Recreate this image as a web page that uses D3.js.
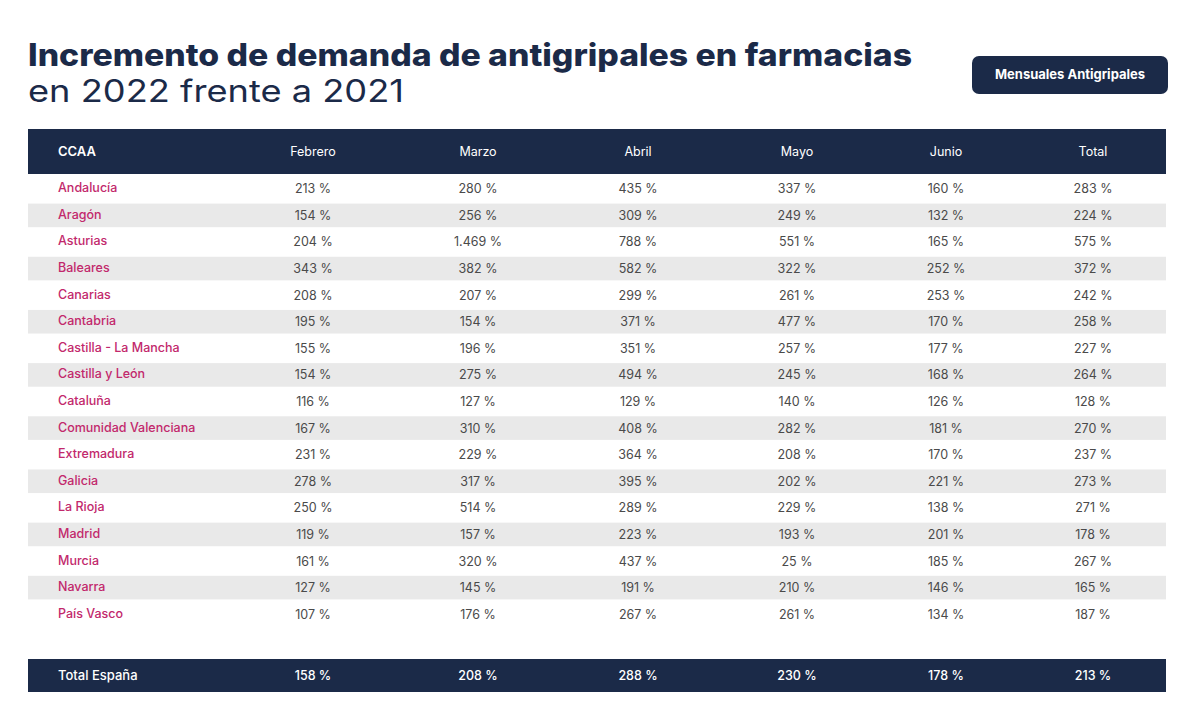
<!DOCTYPE html>
<html>
<head>
<meta charset="utf-8">
<script src="https://cdn.jsdelivr.net/npm/d3@7"></script>
<style>
  html, body { margin: 0; padding: 0; background: #ffffff; }
  svg { display: block; }
</style>
</head>
<body>
<svg id="chart" width="1200" height="716"></svg>
<script>
const title = "Incremento de demanda de antigripales en farmacias";
const subtitle = "en 2022 frente a 2021";
const badge = "Mensuales Antigripales";
const headerLabel = "CCAA";
const columns = ["Febrero", "Marzo", "Abril", "Mayo", "Junio", "Total"];
const regions = ["Andalucía", "Aragón", "Asturias", "Baleares", "Canarias", "Cantabria",
  "Castilla - La Mancha", "Castilla y León", "Cataluña", "Comunidad Valenciana", "Extremadura",
  "Galicia", "La Rioja", "Madrid", "Murcia", "Navarra", "País Vasco"];
const febrero = [213, 154, 204, 343, 208, 195, 155, 154, 116, 167, 231, 278, 250, 119, 161, 127, 107];
const marzo   = [280, 256, 1469, 382, 207, 154, 196, 275, 127, 310, 229, 317, 514, 157, 320, 145, 176];
const abril   = [435, 309, 788, 582, 299, 371, 351, 494, 129, 408, 364, 395, 289, 223, 437, 191, 267];
const mayo    = [337, 249, 551, 322, 261, 477, 257, 245, 140, 282, 208, 202, 229, 193, 25, 210, 261];
const junio   = [160, 132, 165, 252, 253, 170, 177, 168, 126, 181, 170, 221, 138, 201, 185, 146, 134];
const total   = [283, 224, 575, 372, 242, 258, 227, 264, 128, 270, 237, 273, 271, 178, 267, 165, 187];
const totalLabel = "Total España";
const totalEspana = [158, 208, 288, 230, 178, 213];

const series = [febrero, marzo, abril, mayo, junio, total];
const navy = "#1b2a48";
const pink = "#c2286c";
const stripe = "#e9e9e9";
const valueColor = "#4a4a4a";
const fmt = v => d3.format(",")(v).replace(/,/g, ".") + " %";
const font = "Inter, 'Open Sans', sans-serif";

const svg = d3.select("#chart");
const tableLeft = 28, tableRight = 1166;

// title
svg.append("text").attr("x", 28).attr("y", 66)
  .attr("font-family", font).attr("font-weight", 800)
  .attr("font-size", 31).attr("fill", navy).attr("textLength", 884).attr("lengthAdjust", "spacingAndGlyphs")
  .text(title);
svg.append("text").attr("x", 28).attr("y", 102)
  .attr("font-family", font).attr("font-weight", 400)
  .attr("font-size", 31).attr("fill", navy).attr("textLength", 376).attr("lengthAdjust", "spacingAndGlyphs")
  .text(subtitle);

// badge
svg.append("rect").attr("x", 972).attr("y", 56).attr("width", 196).attr("height", 38)
  .attr("rx", 7).attr("fill", navy);
svg.append("text").attr("x", 1070).attr("y", 79).attr("text-anchor", "middle")
  .attr("font-family", font).attr("font-weight", 700)
  .attr("font-size", 13).attr("fill", "#ffffff").text(badge);

// scales
const x = d3.scaleOrdinal().domain(columns).range([313, 478, 638, 797, 946, 1093]);
const y = d3.scaleBand().domain(regions).range([175, 627]).paddingInner(0).paddingOuter(0);

// header bar
svg.append("rect").attr("x", tableLeft).attr("y", 129).attr("width", tableRight - tableLeft)
  .attr("height", 45).attr("fill", navy);
svg.append("text").attr("x", 58).attr("y", 156)
  .attr("font-family", font).attr("font-weight", 600)
  .attr("font-size", 13).attr("fill", "#ffffff").text(headerLabel);
svg.selectAll("text.colhead").data(columns).join("text").attr("class", "colhead")
  .attr("x", d => x(d)).attr("y", 156).attr("text-anchor", "middle")
  .attr("font-family", font).attr("font-weight", 400)
  .attr("font-size", 12.5).attr("fill", "#ffffff").text(d => d);

// stripes
svg.selectAll("rect.stripe").data(regions.filter((d, i) => i % 2 === 1)).join("rect")
  .attr("class", "stripe").attr("x", tableLeft).attr("width", tableRight - tableLeft)
  .attr("y", d => y(d) + 2).attr("height", y.bandwidth() - 3).attr("fill", stripe);

// region names
svg.selectAll("text.region").data(regions).join("text").attr("class", "region")
  .attr("x", 58).attr("y", d => y(d) + y.bandwidth() / 2 + 4)
  .attr("font-family", font).attr("font-weight", 500)
  .attr("font-size", 12.5).attr("fill", pink).text(d => d);

// values
const cells = [];
regions.forEach((r, i) => columns.forEach((c, j) => cells.push({ r, c, v: series[j][i] })));
svg.selectAll("text.cell").data(cells).join("text").attr("class", "cell")
  .attr("x", d => x(d.c)).attr("y", d => y(d.r) + y.bandwidth() / 2 + 5)
  .attr("text-anchor", "middle")
  .attr("font-family", font).attr("font-weight", 400)
  .attr("font-size", 12.5).attr("fill", valueColor).text(d => fmt(d.v));

// total bar
svg.append("rect").attr("x", tableLeft).attr("y", 659).attr("width", tableRight - tableLeft)
  .attr("height", 33).attr("fill", navy);
svg.append("text").attr("x", 58).attr("y", 680)
  .attr("font-family", font).attr("font-weight", 500)
  .attr("font-size", 13).attr("fill", "#ffffff").text(totalLabel);
svg.selectAll("text.tot").data(columns.map((c, j) => ({ c, v: totalEspana[j] }))).join("text")
  .attr("class", "tot").attr("x", d => x(d.c)).attr("y", 680).attr("text-anchor", "middle")
  .attr("font-family", font).attr("font-weight", 500)
  .attr("font-size", 12.5).attr("fill", "#ffffff").text(d => fmt(d.v));
</script>
</body>
</html>
